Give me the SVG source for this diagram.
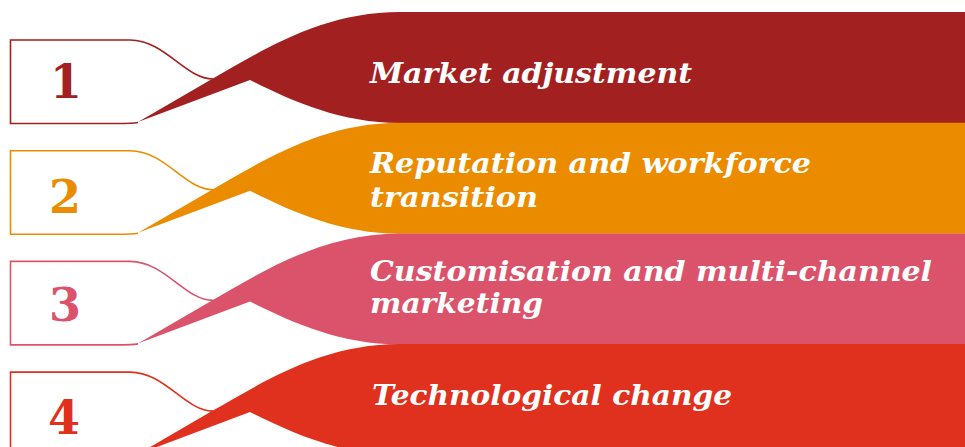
<svg xmlns="http://www.w3.org/2000/svg" xmlns:xlink="http://www.w3.org/1999/xlink" width="965" height="447" viewBox="0 0 965 447">
<style>
.lbl{font-family:"DejaVu Serif","Liberation Serif",serif;font-weight:bold;font-style:italic;font-size:28px;fill:#ffffff}
.num{font-family:"DejaVu Serif","Liberation Serif",serif;font-weight:bold;font-size:46px;text-anchor:middle}
.box{fill:none;stroke-width:1.6}
</style>
<defs>
<path id="ribbon" d="M138 122 L212 79 C260 52 320 12 400 12 L965 12 L965 123 L400 123 C340 123 290 100 250 80 Z"/>
<path id="tab" d="M138 122.5 C132 123.5 126 123.5 118 123.5 L10.5 123.5 L10.5 40 L130 40 C165 40 185 79 213 79"/>
<clipPath id="clip3"><rect x="0" y="0" width="965" height="322"/></clipPath>
</defs>
<g id="connectors"></g>
<g id="node1">
<use xlink:href="#tab" class="box" stroke="#A32020"/>
<use xlink:href="#ribbon" fill="#A32020"/>
<text class="num" x="66" y="98" fill="#A32020">1</text>
<text class="lbl" x="370" y="83" textLength="322" lengthAdjust="spacingAndGlyphs">Market adjustment</text>
</g>
<g id="node2">
<use xlink:href="#tab" class="box" stroke="#EB8C00" y="110.7"/>
<use xlink:href="#ribbon" fill="#EB8C00" y="110.7"/>
<text class="num" x="65" y="213" fill="#EB8C00">2</text>
<text class="lbl" x="370" y="173" textLength="441" lengthAdjust="spacingAndGlyphs">Reputation and workforce</text>
<text class="lbl" x="370" y="207" textLength="168" lengthAdjust="spacingAndGlyphs">transition</text>
</g>
<g id="node3">
<use xlink:href="#tab" class="box" stroke="#DB536A" y="221.4"/>
<use xlink:href="#ribbon" fill="#DB536A" y="221.4"/>
<text class="num" x="65" y="321" fill="#DB536A">3</text>
<text class="lbl" x="370" y="281" textLength="562" lengthAdjust="spacingAndGlyphs">Customisation and multi-channel</text>
<text class="lbl" x="370" y="313" textLength="173" lengthAdjust="spacingAndGlyphs" clip-path="url(#clip3)">marketing</text>
</g>
<g id="node4">
<use xlink:href="#tab" class="box" stroke="#E0301E" y="332.1"/>
<use xlink:href="#ribbon" fill="#E0301E" y="332.1"/>
<text class="num" x="64" y="434" fill="#E0301E">4</text>
<text class="lbl" x="372" y="405" textLength="360" lengthAdjust="spacingAndGlyphs">Technological change</text>
</g>
</svg>
